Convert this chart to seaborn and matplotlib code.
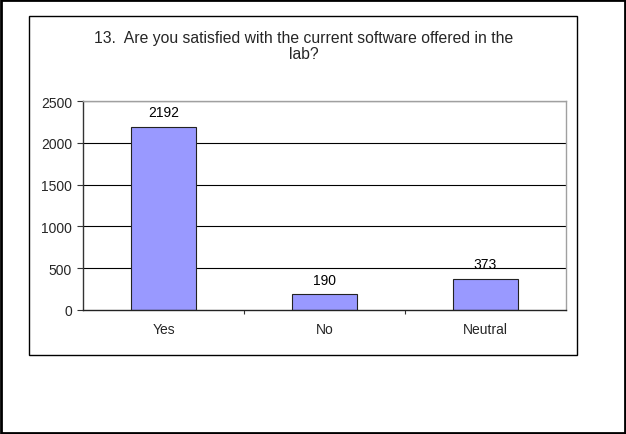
import matplotlib
matplotlib.use("Agg")
import matplotlib.pyplot as plt
from matplotlib.patches import Rectangle
import seaborn as sns
import pandas as pd

categories = ["Yes", "No", "Neutral"]
responses = [2192, 190, 373]
y_ticks = [0, 500, 1000, 1500, 2000, 2500]
title = "13.  Are you satisfied with the current software offered in the\nlab?"

sns.set_theme(style="white")
plt.rcParams["font.family"] = ["Liberation Sans", "DejaVu Sans"]

df = pd.DataFrame({"answer": categories, "count": responses})

W, H = 626, 435
fig = plt.figure(figsize=(W / 100, H / 100), dpi=100)
fig.patch.set_facecolor("white")

# outer page frame
fig.add_artist(Rectangle((0.002, 0.003), 0.996, 0.994, transform=fig.transFigure,
                         fill=False, edgecolor="black", linewidth=2.0))
# chart area frame
x0, x1 = 29 / W, 577 / W
y0, y1 = 1 - 356 / H, 1 - 17 / H
fig.add_artist(Rectangle((x0, y0), x1 - x0, y1 - y0, transform=fig.transFigure,
                         fill=False, edgecolor="black", linewidth=1.0))

ax = fig.add_axes([83 / W, 1 - 311 / H, (566 - 83) / W, (311 - 102) / H])

sns.barplot(data=df, x="answer", y="count", ax=ax, color="#9999FF",
            edgecolor="#222222", linewidth=0.8, width=0.4, saturation=1)

ax.set_ylim(0, 2500)
ax.set_xlim(-0.5, 2.5)
ax.set_yticks(y_ticks)
ax.set_yticklabels([str(v) for v in y_ticks], fontsize=10)
ax.set_xticks(range(len(categories)))
ax.set_xticklabels(categories, fontsize=10)
ax.set_xlabel("")
ax.set_ylabel("")

# horizontal gridlines
for v in y_ticks[1:-1]:
    ax.axhline(v, color="black", linewidth=0.8, zorder=0)
ax.axhline(2500, color="#a0a0a0", linewidth=1.0, zorder=0)

for side in ["top", "right"]:
    ax.spines[side].set_color("#a0a0a0")
    ax.spines[side].set_linewidth(1.0)
ax.spines["left"].set_color("#333333")
ax.spines["bottom"].set_color("#222222")
ax.spines["left"].set_linewidth(1.0)
ax.spines["bottom"].set_linewidth(1.0)

ax.tick_params(axis="y", which="major", direction="out", length=4, width=0.8,
               color="#333333", left=True, pad=4)
ax.tick_params(axis="x", which="major", length=0, pad=9)
# category separators below the axis
ax.set_xticks([0.5, 1.5], minor=True)
ax.tick_params(axis="x", which="minor", direction="out", length=3, width=0.8,
               color="#333333", bottom=True)

for i, v in enumerate(responses):
    ax.text(i, v + 90, str(v), ha="center", va="bottom", fontsize=10, color="black")

fig.text(304 / W, 1 - 46.5 / H, title, ha="center", va="center",
         fontsize=11.3, linespacing=1.1)

fig.savefig("out.png", dpi=100, facecolor="white")
